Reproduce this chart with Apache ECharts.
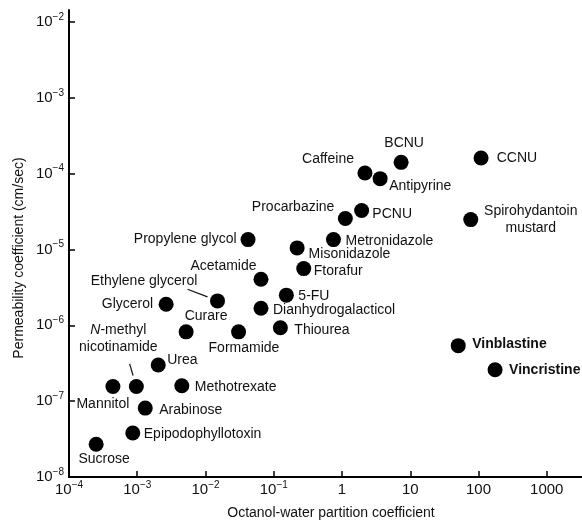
<!DOCTYPE html>
<html>
<head>
<meta charset="utf-8">
<script src="https://cdn.jsdelivr.net/npm/echarts@6/dist/echarts.min.js"></script>
<style>
  html, body { margin: 0; padding: 0; background: #ffffff; }
  #chart { width: 582px; height: 523px; }
</style>
</head>
<body>
<div id="chart"></div>
<script>
// Compounds and their measured values
const compounds = [
  'Sucrose', 'Epipodophyllotoxin', 'Arabinose', 'Mannitol', 'N-methyl nicotinamide',
  'Methotrexate', 'Urea', 'Curare', 'Formamide', 'Glycerol', 'Ethylene glycerol',
  'Acetamide', 'Propylene glycol', 'Dianhydrogalacticol', '5-FU', 'Thiourea',
  'Ftorafur', 'Misonidazole', 'Metronidazole', 'Procarbazine', 'PCNU', 'Caffeine',
  'Antipyrine', 'BCNU', 'CCNU', 'Spirohydantoin mustard', 'Vinblastine', 'Vincristine'
];

// Octanol-water partition coefficient
const partition = [
  2.5e-4, 8.6e-4, 1.31e-3, 4.4e-4, 9.7e-4,
  4.5e-3, 2.03e-3, 5.2e-3, 3.05e-2, 2.65e-3, 1.5e-2,
  6.5e-2, 4.2e-2, 6.5e-2, 0.153, 0.125,
  0.275, 0.22, 0.75, 1.12, 1.94, 2.17,
  3.62, 7.35, 109, 77, 50.5, 175
];

// Permeability coefficient (cm/sec)
const permeability = [
  2.7e-8, 3.8e-8, 8.1e-8, 1.56e-7, 1.56e-7,
  1.6e-7, 3.0e-7, 8.2e-7, 8.2e-7, 1.9e-6, 2.1e-6,
  4.06e-6, 1.35e-5, 1.68e-6, 2.5e-6, 9.3e-7,
  5.6e-6, 1.05e-5, 1.35e-5, 2.56e-5, 3.27e-5, 1.02e-4,
  8.6e-5, 1.41e-4, 1.61e-4, 2.48e-5, 5.4e-7, 2.6e-7
];

// Decade tick exponents on each axis
const xTickExponents = [-4, -3, -2, -1, 0, 1, 2, 3, 4];
const yTickExponents = [-8, -7, -6, -5, -4, -3, -2];

// Label placement: [align, dx, dy, weight] relative to the marker centre
const labelPlacement = {
  'Sucrose': ['center', 8, 15],
  'Epipodophyllotoxin': ['left', 11, 1],
  'Arabinose': ['left', 14, 2],
  'Mannitol': ['center', -10, 18],
  'N-methyl nicotinamide': ['center', -18, -48],
  'Methotrexate': ['left', 13, 1],
  'Urea': ['left', 9, -4.5],
  'Curare': ['center', 20, -16],
  'Formamide': ['left', -30, 16],
  'Glycerol': ['right', -13, 0],
  'Ethylene glycerol': ['center', -73.5, -20],
  'Acetamide': ['center', -37.5, -13.5],
  'Propylene glycol': ['right', -11.5, 0],
  'Dianhydrogalacticol': ['left', 12, 2],
  '5-FU': ['left', 12, 1],
  'Thiourea': ['left', 14, 2],
  'Ftorafur': ['left', 10, 2.5],
  'Misonidazole': ['left', 11.5, 6],
  'Metronidazole': ['left', 12, 1.5],
  'Procarbazine': ['right', -11, -11.7],
  'PCNU': ['left', 10.7, 3.3],
  'Caffeine': ['right', -11, -14.3],
  'Antipyrine': ['left', 9, 7.7],
  'BCNU': ['center', 3, -19],
  'CCNU': ['left', 15.7, 0.6],
  'Spirohydantoin mustard': ['center', 60, 0],
  'Vinblastine': ['left', 14, -1, 'bold'],
  'Vincristine': ['left', 14, 0, 'bold']
};

// Leader lines from a label towards its marker: [from, to] offsets from the marker centre
const leaderLines = {
  'N-methyl nicotinamide': [[-6.7, -22.7], [-3.3, -11]],
  'Ethylene glycerol': [[-30, -11.6], [-10, -4]]
};

const FONT = '"Liberation Sans", Arial, Helvetica, sans-serif';
const INK = '#111111';

function decadeLabel(v) {
  const e = Math.round(Math.log10(v));
  if (e >= 0) return '{b|' + String(Math.pow(10, e)) + '}';
  return '{b|10}{s|\u2212' + (-e) + '}';
}

const tickRich = {
  b: { fontSize: 15, lineHeight: 20, fontFamily: FONT, color: INK },
  s: { fontSize: 10, lineHeight: 10, fontFamily: FONT, color: INK, verticalAlign: 'top' }
};

function compoundText(name) {
  if (name === 'N-methyl nicotinamide') return '{i|N}{r|-methyl}\n{r|nicotinamide}';
  if (name === 'Spirohydantoin mustard') return '{r|Spirohydantoin}\n{r|mustard}';
  return name;
}

const pointData = compounds.map((name, i) => {
  const p = labelPlacement[name];
  const weight = p[3] || 'normal';
  return {
    name: name,
    value: [partition[i], permeability[i]],
    label: {
      show: true,
      position: 'inside',
      align: p[0],
      verticalAlign: 'middle',
      offset: [p[1], p[2]],
      color: INK,
      textBorderWidth: 0,
      fontSize: 14,
      fontFamily: FONT,
      fontWeight: weight,
      lineHeight: 17,
      formatter: () => compoundText(name),
      rich: {
        i: { fontSize: 14, fontFamily: FONT, fontStyle: 'italic', color: INK, lineHeight: 17 },
        r: { fontSize: 14, fontFamily: FONT, color: INK, lineHeight: 17 }
      }
    }
  };
});

const leaderData = Object.keys(leaderLines).map(name => {
  const i = compounds.indexOf(name);
  return { name: name, value: [partition[i], permeability[i]] };
});

const chart = echarts.init(document.getElementById('chart'), null, { renderer: 'canvas' });

chart.setOption({
  backgroundColor: '#ffffff',
  animation: false,
  grid: [
    { left: 69, right: -33, top: 22, bottom: 46, containLabel: false, outerBoundsMode: 'none' },
    { left: 69, right: -33, top: 10, bottom: 46, containLabel: false, outerBoundsMode: 'none' }
  ],
  xAxis: [
    {
      type: 'log',
      logBase: 10,
      min: Math.pow(10, xTickExponents[0]),
      max: Math.pow(10, xTickExponents[xTickExponents.length - 1]),
      gridIndex: 0,
      axisLine: { show: true, onZero: false, lineStyle: { color: '#000', width: 2 } },
      axisTick: { show: true, inside: true, length: 6, lineStyle: { color: '#000', width: 1.5 } },
      axisLabel: { margin: 3, formatter: decadeLabel, rich: tickRich, showMinLabel: true, showMaxLabel: true },
      splitLine: { show: false },
      minorTick: { show: false }
    },
    { type: 'value', gridIndex: 1, show: false }
  ],
  yAxis: [
    {
      type: 'log',
      logBase: 10,
      min: Math.pow(10, yTickExponents[0]),
      max: Math.pow(10, yTickExponents[yTickExponents.length - 1]),
      gridIndex: 0,
      axisLine: { show: true, onZero: false, lineStyle: { color: '#000', width: 2 } },
      axisTick: { show: true, inside: true, length: 6, lineStyle: { color: '#000', width: 1.5 } },
      axisLabel: { margin: 5, formatter: decadeLabel, rich: tickRich, showMinLabel: true, showMaxLabel: true },
      splitLine: { show: false }
    },
    {
      type: 'value',
      gridIndex: 1,
      min: 0,
      max: 1,
      axisLine: { show: true, onZero: false, lineStyle: { color: '#000', width: 2 } },
      axisTick: { show: false },
      axisLabel: { show: false },
      splitLine: { show: false }
    }
  ],
  graphic: [
    {
      type: 'text',
      x: 331,
      y: 513,
      style: {
        text: 'Octanol-water partition coefficient',
        fontSize: 14,
        fontFamily: FONT,
        fill: INK,
        align: 'center',
        verticalAlign: 'middle'
      }
    },
    {
      type: 'text',
      x: 19,
      y: 258,
      rotation: Math.PI / 2,
      style: {
        text: 'Permeability coefficient (cm/sec)',
        fontSize: 14,
        fontFamily: FONT,
        fill: INK,
        align: 'center',
        verticalAlign: 'middle'
      }
    }
  ],
  series: [
    {
      type: 'custom',
      xAxisIndex: 0,
      yAxisIndex: 0,
      silent: true,
      data: leaderData,
      renderItem: function (params, api) {
        const p = api.coord([api.value(0), api.value(1)]);
        const seg = leaderLines[leaderData[params.dataIndex].name];
        return {
          type: 'line',
          shape: {
            x1: p[0] + seg[0][0], y1: p[1] + seg[0][1],
            x2: p[0] + seg[1][0], y2: p[1] + seg[1][1]
          },
          style: { stroke: INK, lineWidth: 1.2 }
        };
      }
    },
    {
      type: 'scatter',
      xAxisIndex: 0,
      yAxisIndex: 0,
      symbol: 'circle',
      symbolSize: 15,
      itemStyle: { color: '#000000', opacity: 1 },
      data: pointData
    }
  ]
});
</script>
</body>
</html>
